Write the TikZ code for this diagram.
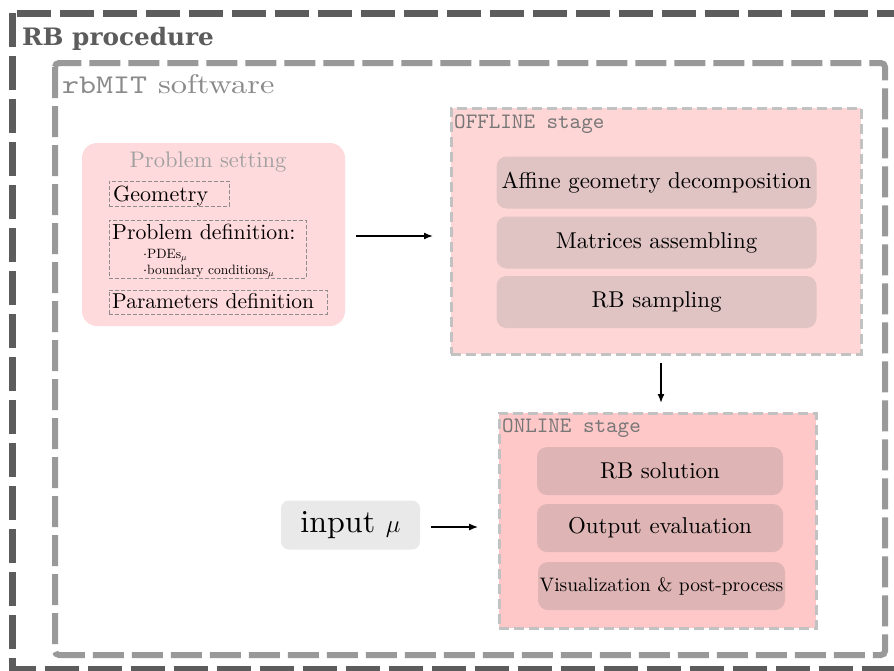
\documentclass[tikz,border=0pt]{standalone}
\usepackage{fontspec}
\setmainfont{lmroman10-regular}[Extension=.otf,ItalicFont=lmroman10-italic,BoldFont=lmroman10-bold]
\setmonofont{lmmono10-regular}[Extension=.otf]
\newfontfamily\slabfont{DejaVu Serif}
\usetikzlibrary{arrows.meta}
\definecolor{outerc}{HTML}{5C5C5C}
\definecolor{innerc}{HTML}{999999}
\definecolor{rbmitc}{HTML}{8A8A8A}
\definecolor{stagec}{HTML}{C2C2C2}
\definecolor{offfill}{HTML}{FFD6D6}
\definecolor{onfill}{HTML}{FFC8C8}
\definecolor{offbox}{HTML}{E0C3C3}
\definecolor{onbox}{HTML}{DEB4B4}
\definecolor{psfill}{HTML}{FFDADC}
\definecolor{inpfill}{HTML}{E9E9E9}
\definecolor{pstext}{HTML}{A0A0A0}
\definecolor{stagetext}{HTML}{777777}
\newcommand{\fsz}[1]{\fontsize{#1}{#1}\selectfont}
\begin{document}
\begin{tikzpicture}[x=1pt,y=-1pt,
  outerframe/.style={draw=outerc,line width=7pt,dash pattern=on 34pt off 9pt},
  innerframe/.style={draw=innerc,line width=6pt,dash pattern=on 31pt off 8pt,rounded corners=4pt},
  stagebox/.style={draw=stagec,line width=2.8pt,dash pattern=on 10pt off 5pt},
  subbox/.style={rounded corners=10pt,minimum width=#1,inner sep=0pt,text=black},
  subbox/.default=320pt,
  dbox/.style={draw=gray!90,line width=0.8pt,dash pattern=on 4pt off 2pt,inner sep=0pt,anchor=north west},
  txt/.style={anchor=base west,inner sep=0pt},
  arr/.style={-{Latex[length=9pt,width=7pt]},line width=1.6pt}
]
\useasboundingbox (0,0) rectangle (894,670);
\clip (0,0) rectangle (894,670);
\fill[white] (0,0) rectangle (894,670);
% frames
\draw[outerframe] (12.5,13) rectangle (902,669);
\node[txt,text=outerc,font=\slabfont\bfseries\fsz{24}] (rbproc) at (22,45) {\scalebox{1.03}[1]{RB procedure}};
\draw[innerframe] (55,63) rectangle (885,655);
\node[txt,text=rbmitc,font=\fsz{27}] (rbmit) at (62,93) {\scalebox{1.2}[1]{\texttt{rbMIT} software}};
% problem setting
\node[fill=psfill,rounded corners=15pt,minimum width=263pt,minimum height=183pt,inner sep=0pt] (pset) at (213.5,234.5) {};
\node[anchor=base,text=pstext,inner sep=0pt,font=\fsz{22.5}] (pstitle) at (208,167) {Problem setting};
\node[dbox,minimum width=120pt,minimum height=25pt] (geom) at (109,181) {};
\node[txt,font=\fsz{22}] (geomt) at (113,201.5) {Geometry};
\node[dbox,minimum width=197pt,minimum height=58pt] (pdef) at (109,220) {};
\node[txt,font=\fsz{21.8}] (pdeft) at (112,239) {Problem definition:};
\node[txt,font=\fsz{13.5}] (pdes) at (143,258) {$\cdot$PDEs$_\mu$};
\node[txt,font=\fsz{13.5}] (bcs) at (143,274) {$\cdot$boundary conditions$_\mu$};
\node[dbox,minimum width=218pt,minimum height=24pt] (par) at (109,290) {};
\node[txt,font=\fsz{21.5}] (part) at (112,308) {Parameters definition};
% offline
\node[stagebox,fill=offfill,minimum width=410pt,minimum height=246pt,inner sep=0pt,anchor=north west] (off) at (450,107) {};
\node[txt,text=stagetext,font=\ttfamily\fsz{22}] (offt) at (454,128) {OFFLINE stage};
\node[subbox,fill=offbox,minimum height=52pt,font=\fsz{22.9}] (aff) at (656.5,182.5) {Affine geometry decomposition};
\node[subbox,fill=offbox,minimum height=52pt,font=\fsz{22.9}] (mat) at (656.5,242.5) {Matrices assembling};
\node[subbox,fill=offbox,minimum height=52pt,font=\fsz{22.9}] (samp) at (656.5,302) {RB sampling};
% online
\node[stagebox,fill=onfill,minimum width=317pt,minimum height=215pt,inner sep=0pt,anchor=north west] (on) at (498,412) {};
\node[txt,text=stagetext,font=\ttfamily\fsz{22}] (ont) at (502,432) {ONLINE stage};
\node[subbox=246pt,fill=onbox,minimum height=48pt,font=\fsz{22.9}] (sol) at (660,471) {RB solution};
\node[subbox=246pt,fill=onbox,minimum height=48pt,font=\fsz{22.9}] (outev) at (660,528) {Output evaluation};
\node[subbox=247pt,fill=onbox,minimum height=48pt,font=\fsz{19.5}] (vis) at (661.5,586) {Visualization \& post-process};
% input
\node[fill=inpfill,rounded corners=8pt,minimum width=139pt,minimum height=49pt,inner sep=0pt,font=\fsz{32}] (inp) at (350.5,525) {input $\mu$};
% arrows
\coordinate (a1s) at ([xshift=11pt,yshift=-1.5pt]pset.east);
\coordinate (a1e) at (433,236);
\draw[arr] (a1s) -- (a1e);
\coordinate (a2s) at (661,363);
\coordinate (a2e) at (661,403);
\draw[arr] (a2s) -- (a2e);
\coordinate (a3s) at ([xshift=11pt,yshift=-2pt]inp.east);
\coordinate (a3e) at ([xshift=58pt,yshift=-2pt]inp.east);
\draw[arr] (a3s) -- (a3e);
\end{tikzpicture}
\end{document}
